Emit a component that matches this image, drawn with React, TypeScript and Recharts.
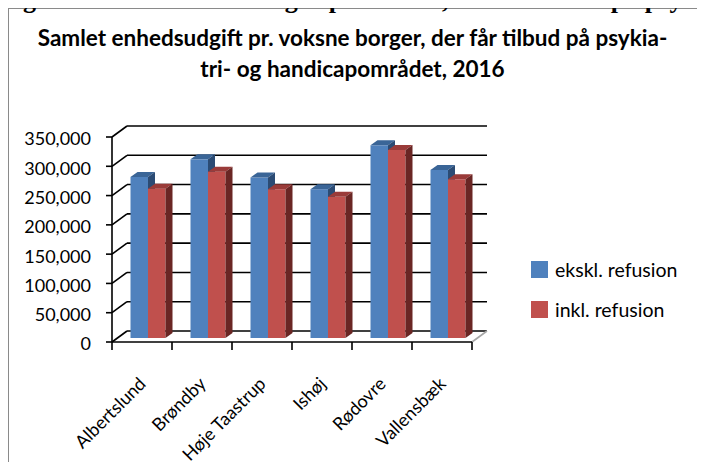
import { BarChart, Bar, XAxis, YAxis, CartesianGrid } from 'recharts';

const kommuner = ['Albertslund', 'Brøndby', 'Høje Taastrup', 'Ishøj', 'Rødovre', 'Vallensbæk'];
const eksklRefusion = [275000, 305000, 274000, 254000, 329000, 287000];
const inklRefusion = [255000, 284000, 254000, 241000, 321000, 271000];
const yTicks = [0, 50000, 100000, 150000, 200000, 250000, 300000, 350000];

const data = kommuner.map((navn, i) => ({
  navn,
  ekskl: eksklRefusion[i],
  inkl: inklRefusion[i],
}));

const FONT = 'Lato, "Open Sans", sans-serif';
// depth of the back wall, and of the bars themselves
const WALL_X = 15;
const WALL_Y = 11;
const SHIFT_X = 5.5;
const SHIFT_Y = 4;
const DEPTH_X = 7;
const DEPTH_Y = 5;

const series = [
  { key: 'ekskl', label: 'ekskl. refusion', front: '#4f81bd', top: '#3a6597', side: '#2b4b74' },
  { key: 'inkl', label: 'inkl. refusion', front: '#c0504d', top: '#9a3b39', side: '#6a2624' },
];

function bar3d(front: string, top: string, side: string) {
  return (props: any) => {
    const { width: w, height: h } = props;
    const x = props.x + SHIFT_X;
    const y = props.y - SHIFT_Y;
    if (!h) return <g />;
    return (
      <g>
        <rect x={x} y={y} width={w} height={h} fill={front} />
        <polygon
          points={`${x},${y} ${x + w},${y} ${x + w + DEPTH_X},${y - DEPTH_Y} ${x + DEPTH_X},${y - DEPTH_Y}`}
          fill={top}
        />
        <polygon
          points={`${x + w},${y} ${x + w + DEPTH_X},${y - DEPTH_Y} ${x + w + DEPTH_X},${y + h - DEPTH_Y} ${x + w},${y + h}`}
          fill={side}
        />
      </g>
    );
  };
}

const gridLine = (props: any) => {
  const { x1, y1, x2, y2 } = props;
  const isFloor = Math.abs(y1 - 342) < 2;
  return (
    <g key={`g-${y1}`}>
      <line x1={x1 + WALL_X} y1={y1 - WALL_Y} x2={x2 + WALL_X} y2={y2 - WALL_Y} stroke="#000" strokeWidth={1.6} />
      <line x1={x1} y1={y1} x2={x1 + WALL_X} y2={y1 - WALL_Y} stroke="#000" strokeWidth={1.6} />
      {isFloor && (
        <line x1={x2} y1={y2} x2={x2 + WALL_X} y2={y2 - WALL_Y} stroke="#a6a6a6" strokeWidth={1.6} />
      )}
    </g>
  );
};

const XTick = (props: any) => {
  const { x, y, payload, index, width, visibleTicksCount } = props;
  const band = width / visibleTicksCount;
  const lx = x + 5;
  const ly = y + 43;
  return (
    <g>
      <line x1={x - band / 2} y1={y} x2={x - band / 2} y2={y + 8} stroke="#000" strokeWidth={1.6} />
      {index === visibleTicksCount - 1 && (
        <line x1={x + band / 2} y1={y} x2={x + band / 2} y2={y + 8} stroke="#000" strokeWidth={1.6} />
      )}
      <text
        x={lx}
        y={ly}
        transform={`rotate(-45, ${lx}, ${ly})`}
        textAnchor="end"
        fontSize={18}
        fontFamily={FONT}
        fill="#000"
      >
        {payload.value}
      </text>
    </g>
  );
};

export default function App() {
  return (
    <div style={{ position: 'relative', width: 705, height: 470, margin: -8, overflow: 'hidden', background: '#fff' }}>
      <div
        style={{
          position: 'absolute',
          left: 8,
          top: 8,
          width: 720,
          height: 480,
          border: '1.5px solid #8a8a8a',
        }}
      />
      <div
        style={{
          position: 'absolute',
          left: 0,
          top: -15,
          whiteSpace: 'nowrap',
          fontFamily: '"Liberation Serif", serif',
          fontWeight: 'bold',
          fontSize: 26,
          lineHeight: '30px',
          color: '#000',
        }}
      >
        Figur 2: Samlet enhedsudgift pr. voksne, der får tilbud på psykiatri- og handicapområdet
      </div>
      <div
        style={{
          position: 'absolute',
          left: 0,
          top: 22,
          width: 705,
          textAlign: 'center',
          fontFamily: FONT,
          fontWeight: 'bold',
          fontSize: 22.5,
          lineHeight: '31px',
          color: '#000',
        }}
      >
        Samlet enhedsudgift pr. voksne borger, der får tilbud på psykia-
        <br />
        tri- og handicapområdet, 2016
      </div>
      <div style={{ position: 'absolute', left: 0, top: 0 }}>
        <BarChart
          width={705}
          height={470}
          data={data}
          margin={{ top: 137, right: 233, left: 12, bottom: 28 }}
          barGap={0}
          barSize={17.5}
        >
          <CartesianGrid vertical={false} horizontal={gridLine} />
          <XAxis
            dataKey="navn"
            height={100}
            axisLine={{ stroke: '#000', strokeWidth: 1.6 }}
            tickLine={false}
            tickSize={0}
            tickMargin={0}
            interval={0}
            tick={<XTick />}
          />
          <YAxis
            width={100}
            domain={[0, 350000]}
            ticks={yTicks}
            interval={0}
            axisLine={{ stroke: '#000', strokeWidth: 1.6 }}
            tickLine={{ stroke: '#000', strokeWidth: 1.6 }}
            tickSize={6}
            tickMargin={15}
            tick={{ fill: '#000', fontSize: 18, fontFamily: FONT, dy: 2 }}
            tickFormatter={(v: number) => v.toLocaleString('en-US')}
          />
          {series.map((s) => (
            <Bar
              key={s.key}
              dataKey={s.key}
              name={s.label}
              fill={s.front}
              shape={bar3d(s.front, s.top, s.side)}
              isAnimationActive={false}
            />
          ))}
        </BarChart>
      </div>
      <div
        style={{
          position: 'absolute',
          left: 531,
          top: 249,
          fontFamily: FONT,
          fontSize: 19.5,
          color: '#000',
        }}
      >
        {series.map((s) => (
          <div key={s.key} style={{ display: 'flex', alignItems: 'center', height: 40 }}>
            <span style={{ width: 17, height: 17, background: s.front, marginRight: 7 }} />
            <span>{s.label}</span>
          </div>
        ))}
      </div>
    </div>
  );
}
